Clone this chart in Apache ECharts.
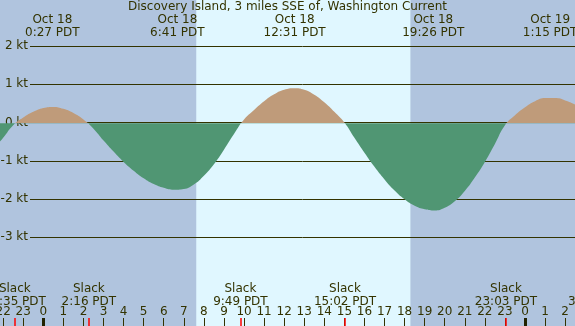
<!DOCTYPE html>
<html>
<head>
<meta charset="utf-8">
<script src="https://cdn.jsdelivr.net/npm/echarts@6/dist/echarts.min.js"></script>
<style>
  html, body { margin: 0; padding: 0; background: #b0c4de; }
  #chart { width: 575px; height: 326px; }
</style>
</head>
<body>
<div id="chart"></div>
<script>
// hours counted from Oct 18 00:00 PDT, current in knots (flood +, ebb -)
const hours = [-3, -2.5, -2, -1.5, -1, -0.5, 0, 0.5, 1, 1.5, 2, 2.5, 3, 3.5, 4, 4.5, 5, 5.5, 6, 6.5,
  7, 7.5, 8, 8.5, 9, 9.5, 10, 10.5, 11, 11.5, 12, 12.5, 13, 13.5, 14, 14.5, 15, 15.5, 16, 16.5,
  17, 17.5, 18, 18.5, 19, 19.5, 20, 20.5, 21, 21.5, 22, 22.5, 23, 23.5, 24, 24.5, 25, 25.5, 26, 26.5,
  27, 27.5, 28];
const knots = [-0.96, -0.68, -0.38, -0.05, 0.15, 0.30, 0.40, 0.43, 0.38, 0.27, 0.10, -0.14, -0.45, -0.74, -1.01, -1.24, -1.44, -1.59, -1.69, -1.74,
  -1.72, -1.60, -1.37, -1.07, -0.69, -0.28, 0.10, 0.35, 0.58, 0.76, 0.88, 0.92, 0.88, 0.75, 0.55, 0.30, 0.02, -0.38, -0.77, -1.14,
  -1.47, -1.76, -1.99, -2.16, -2.25, -2.28, -2.21, -2.04, -1.77, -1.42, -1.01, -0.54, -0.05, 0.21, 0.42, 0.58, 0.66, 0.66, 0.60, 0.49,
  0.33, 0.14, -0.05];

const slackTimes = [-1.42, 2.27, 9.82, 15.03, 23.05, 27.5];
const slackLabels = ["Slack\n22:35 PDT", "Slack\n2:16 PDT", "Slack\n9:49 PDT", "Slack\n15:02 PDT", "Slack\n23:03 PDT", "Slack\n3:30 PDT"];
const peakTimes = [0.45, 6.68, 12.52, 19.43, 25.25];
const peakLabels = ["Oct 18\n0:27 PDT", "Oct 18\n6:41 PDT", "Oct 18\n12:31 PDT", "Oct 18\n19:26 PDT", "Oct 19\n1:15 PDT"];
const midnights = [0, 24];
const sunrise = 7.62;
const sunset = 18.29;
const kt = [-3, -2, -1, 0, 1, 2];

const ink = "#333300";
const font = "DejaVu Sans";
const nightColor = "#b0c4de";
const dayColor = "#e0f7ff";
const floodColor = "#bf9b7a";
const ebbColor = "#509673";

function pick(list, times, v) {
  let best = 0;
  times.forEach((t, i) => {
    if (Math.abs(t - v) < Math.abs(times[best] - v)) best = i;
  });
  return list[best];
}

const hourAxis = {
  gridIndex: 1,
  type: "value",
  min: -3,
  max: 28,
  interval: 1,
  position: "bottom",
  axisLine: { show: false, onZero: false },
  splitLine: { show: false },
};

const myChart = echarts.init(document.getElementById("chart"));
const option = {
  animation: false,
  backgroundColor: nightColor,
  title: {
    text: "Discovery Island, 3 miles SSE of, Washington Current",
    left: "center",
    top: 1,
    padding: 0,
    textStyle: { fontFamily: font, fontSize: 12, fontWeight: "normal", color: ink },
  },
  grid: [
    { left: 30, right: 0, top: 46.1, height: 191.1, outerBoundsMode: "none" },
    { left: -16.9, right: -30.3, top: 0, bottom: 0, outerBoundsMode: "none" },
  ],
  xAxis: [
    { gridIndex: 0, type: "value", min: 0, max: 1, show: false },
    {
      ...hourAxis,
      axisTick: { inside: true, length: 8, lineStyle: { color: ink, width: 1 } },
      axisLabel: {
        inside: true,
        margin: 8,
        color: ink,
        fontFamily: font,
        fontSize: 12,
        formatter: (v) => String(((v % 24) + 24) % 24),
      },
    },
    {
      ...hourAxis,
      axisTick: { inside: true, length: 8, customValues: slackTimes, lineStyle: { color: "#ff0000", width: 1.5 } },
      axisLabel: {
        inside: true,
        margin: 18,
        customValues: slackTimes,
        color: ink,
        fontFamily: font,
        fontSize: 12,
        lineHeight: 13,
        formatter: (v) => pick(slackLabels, slackTimes, v),
      },
    },
    {
      ...hourAxis,
      axisTick: { inside: true, length: 8, customValues: midnights, lineStyle: { color: "#222200", width: 3 } },
      axisLabel: { show: false },
    },
    {
      ...hourAxis,
      position: "top",
      axisTick: { show: false },
      axisLabel: {
        inside: true,
        margin: 13.5,
        customValues: peakTimes,
        color: ink,
        fontFamily: font,
        fontSize: 12,
        lineHeight: 13,
        formatter: (v) => pick(peakLabels, peakTimes, v),
      },
    },
  ],
  yAxis: [
    {
      gridIndex: 0,
      type: "value",
      min: kt[0],
      max: kt[kt.length - 1],
      interval: 1,
      axisLine: { show: false },
      axisTick: { show: false },
      splitLine: { lineStyle: { color: ink, width: 1 } },
      axisLabel: { formatter: "{value} kt", margin: 2, color: ink, fontFamily: font, fontSize: 12 },
    },
    { gridIndex: 1, type: "value", min: -5.306, max: 3.228, show: false },
  ],
  visualMap: {
    show: false,
    type: "piecewise",
    seriesIndex: 1,
    dimension: 1,
    pieces: [
      { gte: -10, lt: 0, color: ebbColor },
      { gte: 0, lte: 10, color: floodColor },
    ],
  },
  series: [
    {
      type: "line",
      xAxisIndex: 1,
      yAxisIndex: 1,
      data: [[sunrise, 0], [sunset, 0]],
      symbol: "none",
      lineStyle: { opacity: 0 },
      silent: true,
      z: -2,
      markArea: {
        silent: true,
        z: -1,
        itemStyle: { color: dayColor },
        data: [[{ xAxis: sunrise }, { xAxis: sunset }]],
      },
    },
    {
      type: "line",
      xAxisIndex: 1,
      yAxisIndex: 1,
      data: hours.map((h, i) => [h, knots[i]]),
      smooth: true,
      symbol: "none",
      lineStyle: { width: 0 },
      areaStyle: { opacity: 1 },
      silent: true,
    },
  ],
};
myChart.setOption(option);
</script>
</body>
</html>
